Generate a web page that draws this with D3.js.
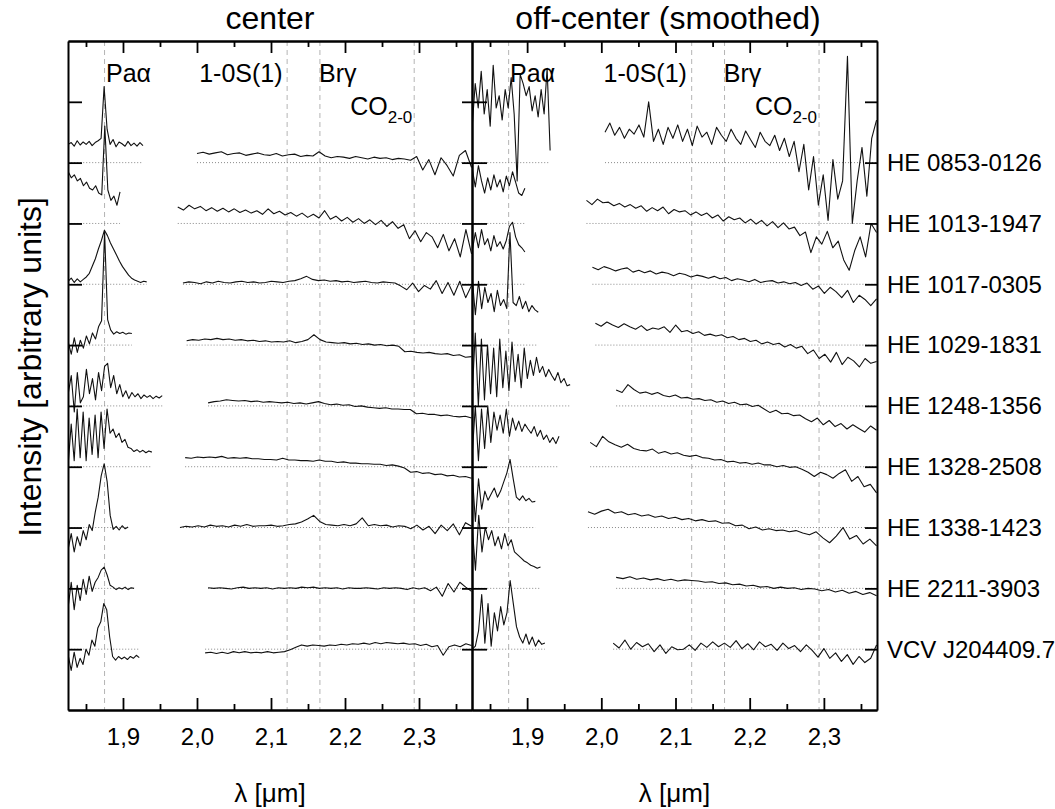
<!DOCTYPE html>
<html>
<head>
<meta charset="utf-8">
<script src="https://cdn.jsdelivr.net/npm/d3@7"></script>
<style>
  body { margin: 0; background: #fff; }
  text { font-family: "Liberation Sans", Arial, sans-serif; fill: #000; }
</style>
</head>
<body>
<div id="chart"></div>
<script>
// object names, one per row (top to bottom)
const names = ["HE 0853-0126", "HE 1013-1947", "HE 1017-0305", "HE 1029-1831", "HE 1248-1356",
               "HE 1328-2508", "HE 1338-1423", "HE 2211-3903", "VCV J204409.7"];

// rest wavelengths of the marked lines [um]: Pa alpha, H2 1-0S(1), Br gamma, CO 2-0
const lineLam = [1.8751, 2.1218, 2.1661, 2.2935];

const majorTicks = [1.9, 2.0, 2.1, 2.2, 2.3];
const minorTicks = [1.85, 1.95, 2.05, 2.15, 2.25, 2.35];
const yTicks = [1, 2, 3, 4, 5, 6, 7, 8, 9, 10];

// ---- center spectra: wavelength ranges [um] and flux above each baseline (arbitrary units)
const centerPaRange = [[1.826, 1.927], [1.826, 1.896], [1.826, 1.932], [1.826, 1.912], [1.826, 1.953],
                       [1.826, 1.939], [1.826, 1.907], [1.826, 1.915], [1.826, 1.922]];
const centerPa = [
  [.30,.33,.27,.36,.29,.34,.30,.35,.28,.33,.36,.40,1.25,.55,.30,.38,.26,.34,.31,.27,.35,.28,.32,.27,.33,.28],
  [.85,.75,.80,.70,.74,.62,.68,.58,.55,.62,.50,.47,1.60,.55,.38,.45,.30,.52],
  [.05,.10,.03,.09,.04,.08,.12,.18,.30,.42,.58,.72,.89,.80,.68,.58,.48,.38,.29,.22,.15,.10,.07,.05,.03,.05,.04],
  [.05,-.15,.12,-.12,.08,-.05,.15,.02,.20,.10,.30,.40,1.86,.42,.25,.18,.22,.19,.21,.18,.20,.19],
  [.20,.50,-.10,.55,.05,.15,.60,.20,.45,.10,.55,.25,.65,.70,.30,.50,.20,.35,.15,.25,.12,.22,.15,.20,.12,.18,.14,.17,.12,.16,.13,.17],
  [.05,.70,.10,.95,.15,.90,.10,.80,.20,.85,.15,.90,.30,.95,.55,.62,.48,.55,.40,.45,.32,.30,.25,.28,.24,.27,.23,.26,.24],
  [-.35,-.10,-.40,-.15,-.30,-.05,-.20,.05,-.05,.25,.50,.85,1.05,.75,.20,-.03,.02,-.04,.03,-.02,.01],
  [-.30,.10,-.35,.05,-.20,.15,-.10,.20,-.05,.10,.18,.30,.35,.22,.05,.02,-.02,.01,-.01,.02,-.02,.01,.00],
  [-.10,-.35,-.05,-.30,-.15,-.25,.00,-.10,.15,.05,.35,.45,.75,.65,.20,-.12,-.18,-.12,-.16,-.13,-.17,-.12,-.15,-.10,-.14]
];
const centerKRange = [[2.000, 2.371], [1.974, 2.371], [1.981, 2.371], [1.986, 2.371], [2.015, 2.371],
                      [1.984, 2.371], [1.977, 2.371], [2.015, 2.371], [2.011, 2.371]];
const centerK = [
  [.15,.17,.14,.16,.18,.13,.15,.16,.12,.14,.16,.13,.12,.15,.11,.13,.14,.10,.12,.11,.18,.11,.08,.10,.09,.07,.10,.08,.06,.09,.07,.08,.05,.07,.06,.04,.10,-.12,.05,-.20,.08,-.05,-.22,.12,.20,-.08],
  [.27,.22,.30,.24,.28,.21,.26,.20,.25,.19,.24,.18,.22,.17,.21,.15,.24,.16,.20,.14,.18,.12,.17,.10,.15,.09,.21,.07,.12,.04,.10,.02,.08,.00,.06,-.02,.05,-.05,.03,-.08,-.02,-.25,-.12,-.30,-.15,-.22,-.40,-.18,-.45,-.25,-.55,-.10,-.50],
  [.02,.04,.03,.01,.04,.02,.05,.03,.02,.04,.05,.03,.04,.02,.03,.05,.04,.03,.05,.06,.09,.13,.08,.06,.07,.05,.06,.04,.05,.03,.04,.05,.03,.02,.04,.03,.02,-.03,-.09,.02,-.12,-.02,-.08,.06,-.15,.03,-.18,.05,-.22,-.02],
  [.07,.09,.08,.10,.09,.11,.09,.10,.08,.09,.07,.08,.06,.07,.05,.06,.05,.07,.04,.06,.09,.17,.09,.05,.04,.03,.04,.02,.03,.01,.02,.00,.01,-.01,.00,-.02,-.11,-.10,-.12,-.13,-.12,-.14,-.15,-.14,-.17,-.16,-.20,-.19],
  [.05,.07,.08,.10,.09,.08,.09,.07,.08,.06,.07,.06,.05,.06,.04,.05,.03,.05,.07,.04,.02,.03,.01,.02,-.01,.00,-.02,-.03,-.04,-.03,-.05,-.05,-.06,-.06,-.13,-.12,-.14,-.14,-.16,-.15,-.17,-.18,-.17,-.20],
  [.15,.14,.16,.15,.16,.15,.17,.14,.15,.14,.15,.13,.13,.12,.12,.11,.14,.11,.11,.10,.10,.09,.11,.09,.09,.07,.08,.06,.06,.05,.05,.04,.04,.02,.03,.01,-.02,-.09,-.08,-.11,-.10,-.13,-.12,-.15,-.14,-.17,-.16,-.19],
  [.00,.02,.01,.03,.01,.04,.02,.03,.01,.04,.02,.05,.02,.03,.03,.04,.02,.03,.05,.06,.09,.14,.20,.10,.05,.04,.03,.05,.03,.06,.16,.03,.05,.03,.04,.01,.03,.02,-.02,.04,-.04,.02,-.10,.04,-.05,.06,-.12,.08,.02],
  [.01,.00,.01,.00,-.01,.01,.02,.00,.01,.00,.01,-.01,.01,.00,.01,.00,.02,.01,.02,.00,.01,.00,.01,-.01,.01,.00,.00,.01,.00,-.01,.01,.00,.01,.00,-.02,.01,-.01,.01,-.04,.02,-.13,.08,-.06,.10,.02,-.05],
  [-.06,-.05,-.07,-.05,-.07,-.04,-.06,-.04,-.06,-.05,-.06,-.04,-.06,-.05,-.04,-.01,.03,.07,.05,.07,.06,.05,.07,.06,.08,.07,.09,.08,.10,.08,.11,.09,.11,.10,.09,.10,.08,.09,.06,.08,.04,.06,-.10,.04,.07,.04,.09,.06]
];

// ---- off-center (smoothed) spectra
const offPaRange = [[1.826, 1.931], [1.826, 1.897], [1.826, 1.897], [1.826, 1.915], [1.826, 1.958],
                    [1.826, 1.943], [1.826, 1.911], [1.826, 1.918], [1.826, 1.924]];
const offPa = [
  [.60,1.30,.90,1.50,.80,1.20,.60,1.60,.90,1.10,.70,1.20,.90,1.40,.80,-.30,1.45,1.30,1.10,1.25,.85,1.10,.75,1.20,.80,1.55,.20],
  [.90,.60,.95,.70,.50,.75,.55,.80,.60,.72,.52,.78,.62,.85,.68,.50,.46,.58],
  [.55,.85,.60,.90,.65,.75,.55,.80,.62,.70,.58,.72,.95,1.02,.78,.65,.60,.53],
  [1.10,.50,1.05,.60,.95,.70,.85,.55,.90,.65,.75,.60,1.85,.70,.65,.80,.60,.72,.55,.65,.58,.54],
  [.20,1.20,.00,1.10,.10,1.00,.20,.95,.15,1.10,.30,.90,.25,1.05,.40,.85,.30,.95,.45,.75,.50,.80,.55,.65,.48,.60,.50,.42,.55,.38,.45,.33,.35],
  [.20,1.00,.10,.95,.30,1.00,.40,.90,.60,.85,.55,.95,.50,.80,.60,.75,.58,.70,.62,.55,.66,.50,.60,.45,.52,.40,.48,.38,.50],
  [.90,.10,.80,.30,.60,.45,.55,.65,.50,.60,.75,.90,1.12,.80,.50,.45,.52,.44,.48,.42,.43],
  [1.00,.30,1.20,.60,1.00,.80,.95,.70,.85,.65,.90,.70,.80,.60,.55,.50,.45,.42,.38,.36,.33,.35],
  [.00,.05,.30,.90,.10,.75,.05,.60,.30,.70,.40,.60,1.13,.75,.37,.20,.10,.25,.08,.20,.05,.15,.08,.10]
];
const offKRange = [[2.005, 2.371], [1.980, 2.371], [1.988, 2.371], [1.992, 2.371], [2.020, 2.371],
                   [1.985, 2.371], [1.982, 2.371], [2.020, 2.371], [2.016, 2.371]];
const offK = [
  [.50,.65,.45,.58,.40,.55,.47,.62,.42,1.00,.35,.55,.30,.58,.40,.62,.35,.55,.28,.60,.42,.50,.30,.58,.45,.35,.55,.40,.30,.52,.38,.25,.50,.35,.28,.45,.20,.40,.10,.35,-.15,.30,-.45,.10,-.70,-.20,-.95,.05,-.60,-.30,1.75,-1.00,-.30,.25,-.55,.40,.70],
  [.38,.31,.40,.34,.35,.29,.33,.27,.31,.25,.29,.20,.26,.21,.27,.16,.23,.19,.21,.14,.19,.13,.17,.09,.14,.04,.11,.06,.09,.01,.07,-.01,.05,-.04,.03,-.07,.01,-.09,-.06,-.20,-.14,-.48,-.22,-.34,-.13,-.40,-.29,-.60,-.77,-.45,-.22,-.55,.00,-.15],
  [.28,.24,.29,.26,.22,.25,.27,.20,.23,.19,.22,.17,.20,.18,.14,.18,.16,.12,.15,.13,.10,.13,.09,.11,.06,.09,.07,.04,.08,.03,.05,.06,.02,.04,.01,.03,-.02,.02,-.08,-.03,-.15,-.05,-.12,-.22,-.10,-.30,-.18,-.25,-.35,-.24],
  [.36,.31,.38,.33,.29,.35,.30,.26,.32,.24,.28,.26,.30,.21,.33,.22,.24,.19,.22,.16,.18,.15,.17,.12,.14,.09,.11,.06,.08,.02,.05,.01,.03,-.03,.01,-.05,-.02,-.14,-.08,-.22,-.15,-.28,-.12,-.32,-.20,-.26,-.36,-.22,-.30,-.27],
  [.26,.22,.35,.27,.21,.23,.19,.22,.17,.15,.18,.13,.14,.11,.12,.09,.10,.06,.08,.04,.06,.02,.03,-.01,.01,-.05,-.11,-.07,-.13,-.12,-.16,-.15,-.21,-.26,-.20,-.31,-.24,-.34,-.29,-.38,-.31,-.37,-.43,-.33,-.40],
  [.40,.33,.50,.41,.36,.32,.37,.30,.27,.26,.29,.22,.25,.21,.23,.19,.17,.19,.15,.14,.11,.12,.08,.09,.06,.07,.04,.06,.03,.03,.00,.02,-.01,.00,-.04,-.09,-.16,-.09,-.13,-.19,-.11,-.05,-.24,-.16,-.33,-.29,-.43],
  [.26,.22,.27,.30,.24,.26,.21,.23,.19,.21,.17,.19,.15,.17,.13,.15,.11,.13,.10,.11,.07,.08,.03,.04,-.02,.01,-.04,-.02,-.05,-.04,-.07,-.05,-.09,-.12,-.07,-.17,-.25,-.14,.00,-.19,-.13,-.27,-.19,-.30],
  [.18,.16,.19,.15,.17,.14,.16,.13,.15,.12,.14,.13,.12,.10,.11,.08,.09,.06,.07,.04,.05,.02,.03,.00,.02,.00,.01,-.02,.00,-.01,-.04,-.02,-.06,-.03,-.08,-.05,-.10,-.07,-.12],
  [.10,.02,.15,.00,.11,.04,.09,-.04,.07,-.07,.04,-.01,.00,.07,-.02,.10,.03,.12,.04,.10,.03,.14,.01,.09,-.01,.12,.04,.08,-.02,.10,.01,.06,-.04,.07,-.02,-.13,.01,-.15,-.06,-.20,-.09,-.25,-.12,-.22,-.15,.07]
];

// ---- layout
const W = 1055, H = 809;
const svg = d3.select("#chart").append("svg").attr("width", W).attr("height", H);
svg.append("rect").attr("width", W).attr("height", H).attr("fill", "#fff");

const y = d3.scaleLinear().domain([0, 11]).range([710, 41]);
const xL = d3.scaleLinear().domain([1.8257, 2.3716]).range([68, 472]);
const xR = d3.scaleLinear().domain([1.8257, 2.3716]).range([472, 877]);

const panels = [
  { id: "c", x: xL, pa: centerPa, paR: centerPaRange, k: centerK, kR: centerKRange, title: "center", tx: 270 },
  { id: "o", x: xR, pa: offPa, paR: offPaRange, k: offK, kR: offKRange, title: "off-center (smoothed)", tx: 668 }
];

const toPts = (r, v, base) => v.map((d, j) => [r[0] + j * (r[1] - r[0]) / (v.length - 1), base + d]);
const fmt = d => d3.format(".1f")(d).replace(".", ",");

panels.forEach(p => {
  const x = p.x;
  const [x0, x1] = x.range();
  const g = svg.append("g");

  svg.append("clipPath").attr("id", "clip-" + p.id)
    .append("rect").attr("x", x0).attr("y", y(11)).attr("width", x1 - x0).attr("height", y(0) - y(11));

  // dashed line markers
  g.selectAll("line.mark").data(lineLam).enter().append("line")
    .attr("x1", d => x(d)).attr("x2", d => x(d))
    .attr("y1", y(11)).attr("y2", y(0))
    .attr("stroke", "#b4b4b4").attr("stroke-width", 1).attr("stroke-dasharray", "5,4");

  const line = d3.line().x(d => x(d[0])).y(d => y(d[1]));
  const data = g.append("g").attr("clip-path", `url(#clip-${p.id})`);

  names.forEach((n, i) => {
    const base = 9 - i;
    [[p.paR[i], p.pa[i]], [p.kR[i], p.k[i]]].forEach(([r, v]) => {
      // dotted zero line under each piece
      data.append("line")
        .attr("x1", x(r[0])).attr("x2", x(r[1]))
        .attr("y1", y(base)).attr("y2", y(base))
        .attr("stroke", "#888").attr("stroke-width", 1).attr("stroke-dasharray", "1,2");
      data.append("path")
        .datum(toPts(r, v, base))
        .attr("d", line)
        .attr("fill", "none")
        .attr("stroke", "#111")
        .attr("stroke-width", 1.1)
        .attr("stroke-linejoin", "round");
    });
  });

  // axes (all ticks inward)
  const styleAxis = a => {
    a.select(".domain").attr("stroke-width", 2);
    a.selectAll(".tick line").attr("stroke-width", 1.8);
  };
  svg.append("g").attr("transform", `translate(0,${y(0)})`)
    .call(d3.axisBottom(x).tickValues(majorTicks).tickSizeInner(-12).tickSizeOuter(0).tickPadding(18).tickFormat(fmt))
    .call(styleAxis)
    .attr("font-family", null).attr("font-size", null)
    .selectAll("text").attr("font-size", 24);
  svg.append("g").attr("transform", `translate(0,${y(0)})`)
    .call(d3.axisBottom(x).tickValues(minorTicks).tickSizeInner(-6).tickSizeOuter(0).tickFormat(""))
    .call(styleAxis);
  svg.append("g").attr("transform", `translate(0,${y(11)})`)
    .call(d3.axisTop(x).tickValues(majorTicks).tickSizeInner(-12).tickSizeOuter(0).tickFormat(""))
    .call(styleAxis);
  svg.append("g").attr("transform", `translate(0,${y(11)})`)
    .call(d3.axisTop(x).tickValues(minorTicks).tickSizeInner(-6).tickSizeOuter(0).tickFormat(""))
    .call(styleAxis);
  svg.append("g").attr("transform", `translate(${x0},0)`)
    .call(d3.axisLeft(y).tickValues(yTicks).tickSizeInner(p.id === "c" ? -14 : -15).tickSizeOuter(0).tickFormat(""))
    .call(styleAxis);
  svg.append("g").attr("transform", `translate(${x1},0)`)
    .call(d3.axisRight(y).tickValues(yTicks).tickSizeInner(p.id === "c" ? -10 : -12).tickSizeOuter(0).tickFormat(""))
    .call(styleAxis);

  // line labels
  const lab = svg.append("g").attr("font-size", 25);
  lab.append("text").attr("x", x(1.877)).attr("y", 82).text("Paα");
  lab.append("text").attr("x", x(2.003)).attr("y", 82).text("1-0S(1)");
  lab.append("text").attr("x", x(2.165)).attr("y", 82).text("Brγ");
  const co = lab.append("text").attr("x", x(2.207)).attr("y", 115).text("CO");
  co.append("tspan").attr("dy", 8).attr("font-size", 17).text("2-0");

  // panel title and x label
  svg.append("text").attr("x", p.tx).attr("y", 29).attr("text-anchor", "middle")
    .attr("font-size", 32).text(p.title);
  svg.append("text").attr("x", (x0 + x1) / 2).attr("y", 802).attr("text-anchor", "middle")
    .attr("font-size", 26).text("λ [μm]");
});

// object names on the right
svg.append("g").selectAll("text").data(names).enter().append("text")
  .attr("x", 887).attr("y", (d, i) => y(9 - i)).attr("dy", "0.35em")
  .attr("font-size", 24).text(d => d);

// y axis title
svg.append("text")
  .attr("transform", "translate(30,367) rotate(-90)")
  .attr("text-anchor", "middle").attr("dominant-baseline", "central")
  .attr("font-size", 32).text("Intensity [arbitrary units]");
</script>
</body>
</html>
